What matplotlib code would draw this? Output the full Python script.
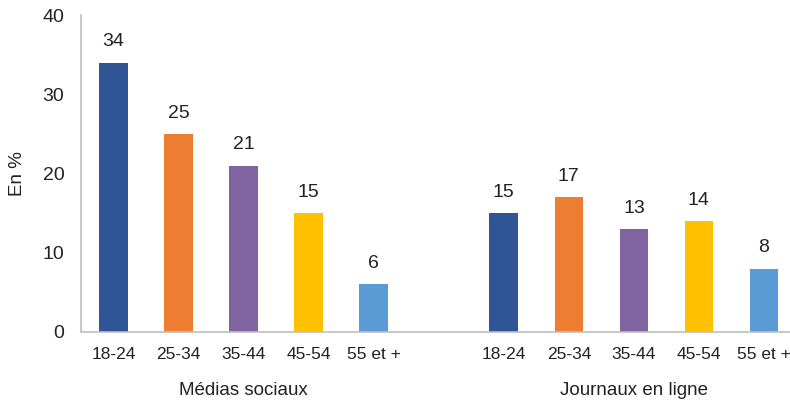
import matplotlib.pyplot as plt

# Data
age_groups = ['18-24', '25-34', '35-44', '45-54', '55 et +']
medias_sociaux = [34, 25, 21, 15, 6]
journaux_en_ligne = [15, 17, 13, 14, 8]
group_names = ['Médias sociaux', 'Journaux en ligne']
colors = ['#2F5597', '#ED7D31', '#8064A2', '#FFC000', '#5B9BD5']

plt.rcParams['font.family'] = ['Liberation Sans', 'DejaVu Sans']

fig = plt.figure(figsize=(7.9, 4.03), dpi=100)
ax = fig.add_axes([81 / 790, 1 - 332 / 403, (790 - 81) / 790, (332 - 15) / 403])

positions = []
values = []
for g, series in enumerate([medias_sociaux, journaux_en_ligne]):
    for i, v in enumerate(series):
        positions.append(g * 6 + i)
        values.append(v)

bar_colors = colors * 2
ax.bar(positions, values, width=0.44, color=bar_colors)

for x, v in zip(positions, values):
    ax.annotate(str(v), xy=(x, v), xytext=(0, 15), textcoords='offset points',
                ha='center', va='center', fontsize=14, color='#222222')

ax.set_ylim(0, 40)
ax.set_xlim(-0.5, 10.4)
ax.set_yticks([0, 10, 20, 30, 40])
ax.tick_params(axis='y', length=0, labelsize=14, pad=12, colors='#222222')
ax.set_xticks(positions)
ax.set_xticklabels(age_groups * 2)
ax.tick_params(axis='x', length=0, labelsize=12.5, pad=11, colors='#222222')

for s in ['top', 'right']:
    ax.spines[s].set_visible(False)
for s in ['left', 'bottom']:
    ax.spines[s].set_color('#BFBFBF')
    ax.spines[s].set_linewidth(1.2)

ax.set_ylabel('En %', fontsize=13.5, color='#222222', labelpad=12)

for g, name in enumerate(group_names):
    ax.annotate(name, xy=(g * 6 + 2, 0), xycoords=('data', 'axes fraction'),
                xytext=(0, -42), textcoords='offset points', ha='center', va='center',
                fontsize=13.5, color='#222222')

fig.savefig('out.png', dpi=100)
